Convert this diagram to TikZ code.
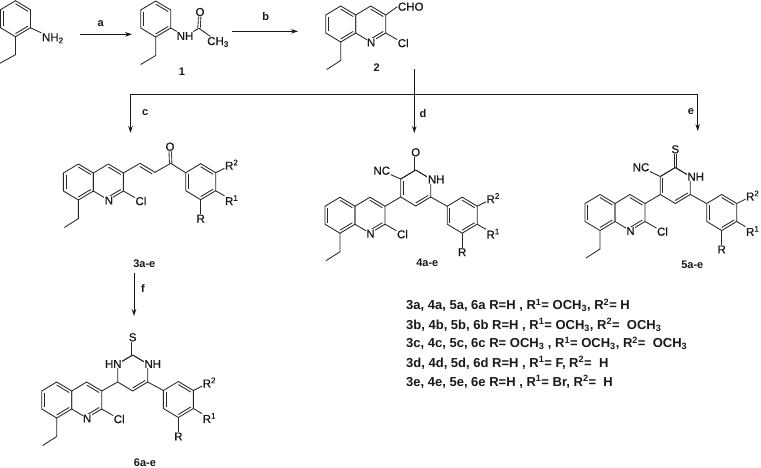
\documentclass[tikz,border=0pt]{standalone}
\usepackage{fontspec}
\setmainfont{Liberation Sans}
\newfontfamily\atomfont[FakeBold=0.6]{Liberation Sans}
\usetikzlibrary{arrows.meta,calc}
\tikzset{
  bond/.style={line width=0.85pt,draw=black!85},
  dbond/.style={bond,double,double distance=1.6pt},
  arr/.style={line width=0.85pt,draw=black!90,-{Stealth[length=7pt,width=4.5pt]}},
  rule/.style={line width=0.85pt,draw=black!90},
  atom/.style={fill=white,inner sep=0.4pt,font=\fontsize{11.5}{13}\selectfont\atomfont,text=black!90},
  tag/.style={inner sep=0pt,font=\fontsize{11}{13}\selectfont\bfseries,text=black!90},
  rowtext/.style={anchor=west,inner sep=0pt,font=\fontsize{13}{15}\selectfont\bfseries,text=black!90}
}
% ring: name cx cy; vertices 1 top, 2 tr, 3 br, 4 bottom, 5 bl, 6 tl
\newcommand{\RingAt}[3]{%
  \coordinate (#1c) at ({#2},{#3});
  \coordinate (#11) at ({#2},{#3-18});
  \coordinate (#12) at ({#2+15},{#3-9});
  \coordinate (#13) at ({#2+15},{#3+9});
  \coordinate (#14) at ({#2},{#3+18});
  \coordinate (#15) at ({#2-15},{#3+9});
  \coordinate (#16) at ({#2-15},{#3-9});
  \draw[bond] (#11)--(#12)--(#13)--(#14)--(#15)--(#16)--cycle;
}
\newcommand{\InBond}[3]{\draw[bond] ($(#1#2)!.17!(#1c)$) -- ($(#1#3)!.17!(#1c)$);}
\newcommand{\Kekule}[1]{\InBond{#1}{5}{6}\InBond{#1}{1}{2}\InBond{#1}{3}{4}}
% quinoline: name, benzene cx, cy
\newcommand{\Quin}[3]{%
  \RingAt{#1b}{#2}{#3}
  \RingAt{#1p}{#2+30}{#3}
  \Kekule{#1b}
  \InBond{#1p}{1}{2}\InBond{#1p}{3}{4}
  \node[atom] (#1N) at ($(#1p4)+(0.5,0.5)$) {N};
  \node[atom] (#1Cl) at ($(#1p3)+(17.5,10)$) {Cl};
  \draw[bond] (#1p3) -- (#1Cl);
  \coordinate (#1e1) at ($(#1b4)+(0,18.5)$);
  \coordinate (#1e2) at ($(#1e1)+(-14,9)$);
  \draw[bond] (#1b4) -- (#1e1) -- (#1e2);
}
% substituted phenyl: name, cx, cy
\newcommand{\Phen}[3]{%
  \RingAt{#1}{#2}{#3}
  \Kekule{#1}
  \node[atom] (#1Rb) at ($(#12)+(16,-8)$) {R\textsuperscript{2}};
  \node[atom] (#1Ra) at ($(#13)+(16,9.5)$) {R\textsuperscript{1}};
  \node[atom] (#1R) at ($(#14)+(0,19)$) {R};
  \draw[bond] (#12) -- (#1Rb);
  \draw[bond] (#13) -- (#1Ra);
  \draw[bond] (#14) -- (#1R);
}
\begin{document}
\begin{tikzpicture}[x=1pt,y=-1pt]
\useasboundingbox (0,0) rectangle (761,467);
\fill[white] (0,0) rectangle (761,467);

% 2-ethylaniline
\RingAt{an}{15.5}{18.7}
\Kekule{an}
\node[atom] (nh2) at (52.8,38.3) {NH\textsubscript{2}};
\draw[bond] (an3) -- (nh2);
\coordinate (ane1) at ($(an4)+(0,18)$);
\coordinate (ane2) at ($(ane1)+(-15.5,8.5)$);
\draw[bond] (an4) -- (ane1) -- (ane2);

% compound 1
\RingAt{ac}{155.7}{19}
\Kekule{ac}
\coordinate (acC) at (199,28.3);
\node[atom] (aco) at (200,12) {O};
\draw[dbond] (acC) -- (aco);
\node[atom] (acn) at (185,36) {NH};
\node[atom] (acm) at (218,42) {CH\textsubscript{3}};
\draw[bond] (ac3) -- (acn);
\draw[bond] (acn) -- (acC) -- (acm);
\coordinate (ace1) at ($(ac4)+(0,18.5)$);
\coordinate (ace2) at ($(ace1)+(-15,9)$);
\draw[bond] (ac4) -- (ace1) -- (ace2);
\node[tag] (lab1) at (182,72) {1};

% compound 2
\Quin{f}{340.7}{24}
\node[atom] (cho) at (410.7,6.7) {CHO};
\draw[bond] (fp2) -- (cho.west);
\node[tag] (lab2) at (376.7,68) {2};

% top arrows
\coordinate (a0) at (80,34.3);
\coordinate (a1) at (132,34.3);
\draw[arr] (a0) -- (a1);
\node[tag] (la) at (100.7,24) {a};
\coordinate (b0) at (231.7,31.3);
\coordinate (b1) at (298,31.3);
\draw[arr] (b0) -- (b1);
\node[tag] (lb) at (265.7,16.7) {b};

% branch
\coordinate (hl) at (130.5,94.3);
\coordinate (hr) at (697.7,94.3);
\coordinate (c1) at (130.5,133);
\coordinate (d0) at (414.3,69);
\coordinate (d1) at (414.3,133);
\coordinate (e1) at (697.7,131);
\draw[rule] (hl) -- (hr);
\draw[arr] (hl) -- (c1);
\draw[arr] (d0) -- (d1);
\draw[arr] (hr) -- (e1);
\node[tag] (lc) at (145.3,112.3) {c};
\node[tag] (ld) at (423,114) {d};
\node[tag] (le) at (691,112) {e};

% compound 3
\coordinate (va) at (140,163.3);
\coordinate (vb) at (155,172.3);
\coordinate (vC) at (170.7,163.3);
\coordinate (vref) at (139,182);
\node[atom] (vo) at (170,146.7) {O};
\draw[dbond] (vC) -- (vo);
\Quin{t}{78.4}{182}
\Phen{tr}{200.7}{181.7}
\draw[bond] (tp2) -- (va) -- (vb) -- (vC) -- (tr6);
\draw[bond] ($(va)!.17!(vref)$) -- ($(vb)!.17!(vref)$);
\node[tag] (lab3) at (144.3,263.3) {3a-e};

% compound 4
\Quin{d}{340}{215.2}
\Phen{dr}{462.2}{215.2}
\RingAt{dc}{415.7}{188}
\InBond{dc}{5}{6}\InBond{dc}{3}{4}
\draw[bond] (dp2) -- (dc5);
\draw[bond] (dc3) -- (dr6);
\node[atom] (dcn) at (381.7,170.7) {NC};
\draw[bond] (dc6) -- (dcn);
\node[atom] (dno) at (415.7,152.3) {O};
\draw[dbond] (dc1) -- (dno);
\draw[bond] (dc6) -- (dc1) -- (dc2);
\node[atom] (dnh) at (436.2,179.3) {NH};
\node[tag] (lab4) at (427.3,262.3) {4a-e};

% compound 5
\Quin{w}{600}{212.5}
\Phen{wr}{721.7}{212.5}
\RingAt{wc}{675.3}{185.5}
\InBond{wc}{5}{6}\InBond{wc}{3}{4}
\draw[bond] (wp2) -- (wc5);
\draw[bond] (wc3) -- (wr6);
\node[atom] (wcn) at (641,167.3) {NC};
\draw[bond] (wc6) -- (wcn);
\node[atom] (wns) at (675.3,149.3) {S};
\draw[dbond] (wc1) -- (wns);
\draw[bond] (wc6) -- (wc1) -- (wc2);
\node[atom] (wnh) at (695.7,176.7) {NH};
\node[tag] (lab5) at (692.3,264.3) {5a-e};

% arrow f
\coordinate (f0) at (134,273);
\coordinate (f1) at (134,316);
\draw[arr] (f0) -- (f1);
\node[tag] (lf) at (143,288.3) {f};

% compound 6
\Quin{s}{56.7}{400}
\Phen{sr}{178.4}{399.5}
\RingAt{sc}{132.7}{373}
\InBond{sc}{3}{4}
\draw[bond] (sp2) -- (sc5);
\draw[bond] (sc3) -- (sr6);
\node[atom] (sns) at (132.7,337.3) {S};
\draw[dbond] (sc1) -- (sns);
\draw[bond] (sc6) -- (sc1) -- (sc2);
\node[atom] (shl) at (113.3,364) {HN};
\node[atom] (shr) at (152.7,364) {NH};
\node[tag] (lab6) at (145,462.3) {6a-e};

% table
\node[rowtext] (r1) at (406,305.5) {3a, 4a, 5a, 6a R=H , R\textsuperscript{1}= OCH\textsubscript{3}, R\textsuperscript{2}= H};
\node[rowtext] (r2) at (406,325) {3b, 4b, 5b, 6b R=H , R\textsuperscript{1}= OCH\textsubscript{3}, R\textsuperscript{2}=\ \ OCH\textsubscript{3}};
\node[rowtext] (r3) at (406,343.5) {3c, 4c, 5c, 6c R= OCH\textsubscript{3} , R\textsuperscript{1}= OCH\textsubscript{3}, R\textsuperscript{2}=\ \ OCH\textsubscript{3}};
\node[rowtext] (r4) at (406,362.7) {3d, 4d, 5d, 6d R=H , R\textsuperscript{1}= F, R\textsuperscript{2}=\ \ H};
\node[rowtext] (r5) at (406,381.7) {3e, 4e, 5e, 6e R=H , R\textsuperscript{1}= Br, R\textsuperscript{2}=\ \ H};
\end{tikzpicture}
\end{document}
